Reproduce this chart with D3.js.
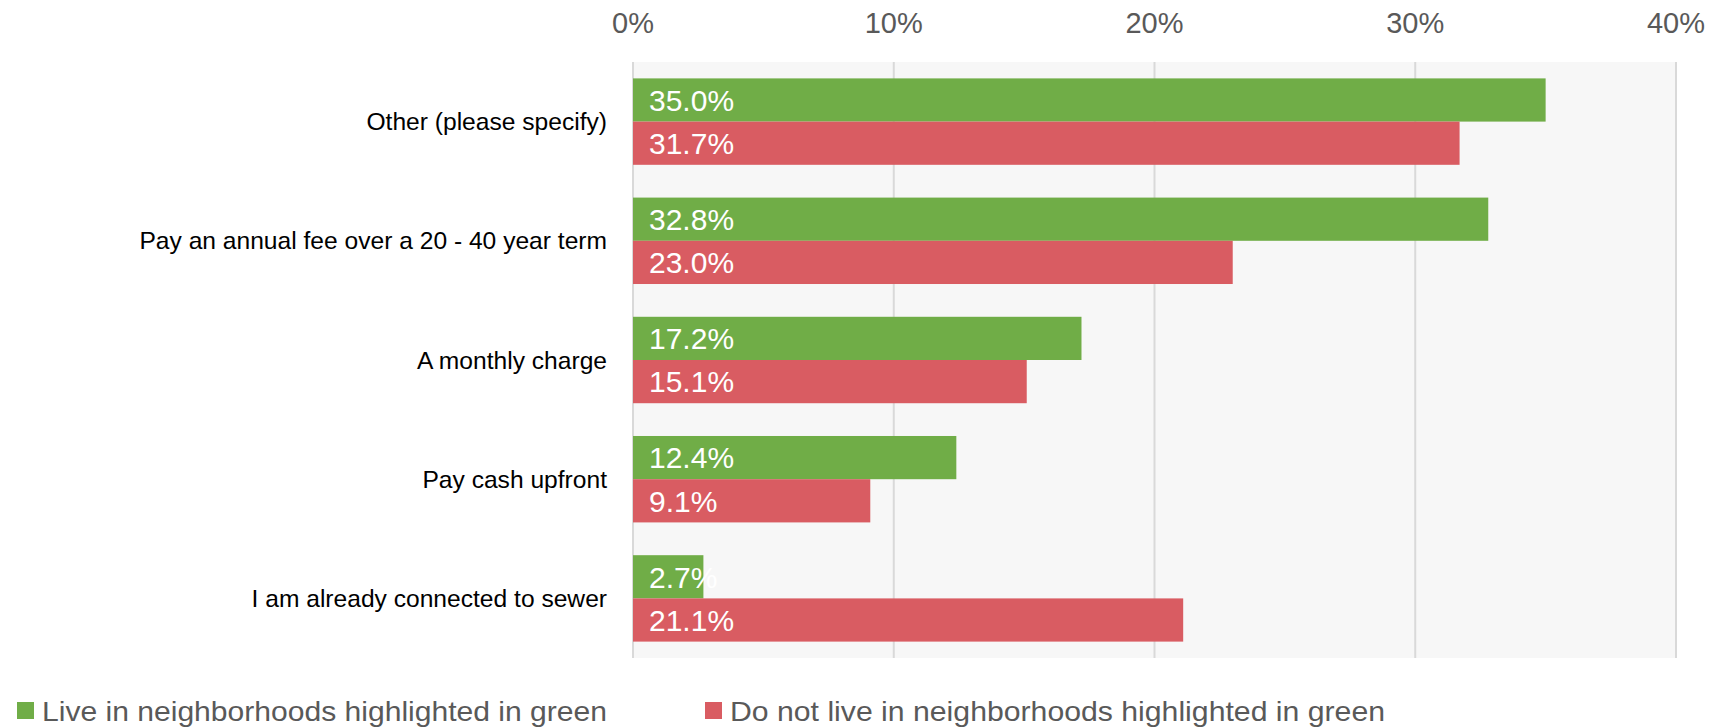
<!DOCTYPE html>
<html>
<head>
  <meta charset="utf-8">
  <title>Payment preference</title>
  <script src="https://d3js.org/d3.v7.min.js"></script>
  <style>
    body { margin: 0; background: #fff; }
    svg { display: block; }
  </style>
</head>
<body>
<div id="chart"></div>
<script>
var categories = ["Other (please specify)", "Pay an annual fee over a 20 - 40 year term", "A monthly charge", "Pay cash upfront", "I am already connected to sewer"];
var liveGreen = [35.0, 32.8, 17.2, 12.4, 2.7];
var notGreen = [31.7, 23.0, 15.1, 9.1, 21.1];
var seriesNames = ["Live in neighborhoods highlighted in green", "Do not live in neighborhoods highlighted in green"];
var xTicks = [0, 10, 20, 30, 40];

var colors = ["#70ad47", "#d95c62"];
var width = 1723, height = 728;
var margin = {top: 62, right: 47, bottom: 70, left: 633};

var svg = d3.select("#chart").append("svg")
    .attr("width", width)
    .attr("height", height);

var x = d3.scaleLinear()
    .domain([0, 40])
    .range([margin.left, width - margin.right]);

var y = d3.scaleBand()
    .domain(categories)
    .range([margin.top, height - margin.bottom])
    .paddingInner(0.275)
    .paddingOuter(0.1375);

var y1 = d3.scaleBand()
    .domain([0, 1])
    .range([0, y.bandwidth()]);

// plot background
svg.append("rect")
    .attr("x", x(0))
    .attr("y", margin.top)
    .attr("width", x(40) - x(0))
    .attr("height", height - margin.bottom - margin.top)
    .attr("fill", "#f7f7f7");

// grid lines
svg.append("g").selectAll("line")
    .data(xTicks)
    .enter().append("line")
    .attr("x1", function(d) { return x(d); })
    .attr("x2", function(d) { return x(d); })
    .attr("y1", margin.top)
    .attr("y2", height - margin.bottom)
    .attr("stroke", "#d9d9d9")
    .attr("stroke-width", 2);

// top axis labels
svg.append("g").selectAll("text")
    .data(xTicks)
    .enter().append("text")
    .attr("x", function(d) { return x(d); })
    .attr("y", 23)
    .attr("dy", "0.36em")
    .attr("text-anchor", "middle")
    .attr("fill", "#595959")
    .style("font-family", "'Liberation Sans', Arial, sans-serif")
    .style("font-size", "29px")
    .text(function(d) { return d + "%"; });

// category labels
svg.append("g").selectAll("text")
    .data(categories)
    .enter().append("text")
    .attr("x", x(0) - 26)
    .attr("y", function(d) { return y(d) + y.bandwidth() / 2; })
    .attr("dy", "0.35em")
    .attr("text-anchor", "end")
    .attr("fill", "#000")
    .style("font-family", "'Liberation Sans', Arial, sans-serif")
    .style("font-size", "24.6px")
    .text(function(d) { return d; });

var series = [liveGreen, notGreen];

series.forEach(function(vals, s) {
  var g = svg.append("g");
  g.selectAll("rect")
      .data(vals)
      .enter().append("rect")
      .attr("x", x(0))
      .attr("y", function(d, i) { return y(categories[i]) + y1(s); })
      .attr("width", function(d) { return x(d) - x(0); })
      .attr("height", y1.bandwidth())
      .attr("fill", colors[s]);
  g.selectAll("text")
      .data(vals)
      .enter().append("text")
      .attr("x", x(0) + 16)
      .attr("y", function(d, i) { return y(categories[i]) + y1(s) + y1.bandwidth() / 2; })
      .attr("dy", "0.36em")
      .attr("fill", "#fff")
      .style("font-family", "'Liberation Sans', Arial, sans-serif")
      .style("font-size", "30px")
      .text(function(d) { return d.toFixed(1) + "%"; });
});

// legend
var legendX = [17, 705];
var legendLen = [565, 655];
var legend = svg.append("g").selectAll("g")
    .data(seriesNames)
    .enter().append("g")
    .attr("transform", function(d, i) { return "translate(" + legendX[i] + ",702)"; });

legend.append("rect")
    .attr("width", 17)
    .attr("height", 17)
    .attr("fill", function(d, i) { return colors[i]; });

legend.append("text")
    .attr("x", 25)
    .attr("y", 9)
    .attr("dy", "0.36em")
    .attr("fill", "#595959")
    .attr("textLength", function(d, i) { return legendLen[i]; })
    .attr("lengthAdjust", "spacingAndGlyphs")
    .style("font-family", "'Liberation Sans', Arial, sans-serif")
    .style("font-size", "28px")
    .text(function(d) { return d; });
</script>
</body>
</html>
